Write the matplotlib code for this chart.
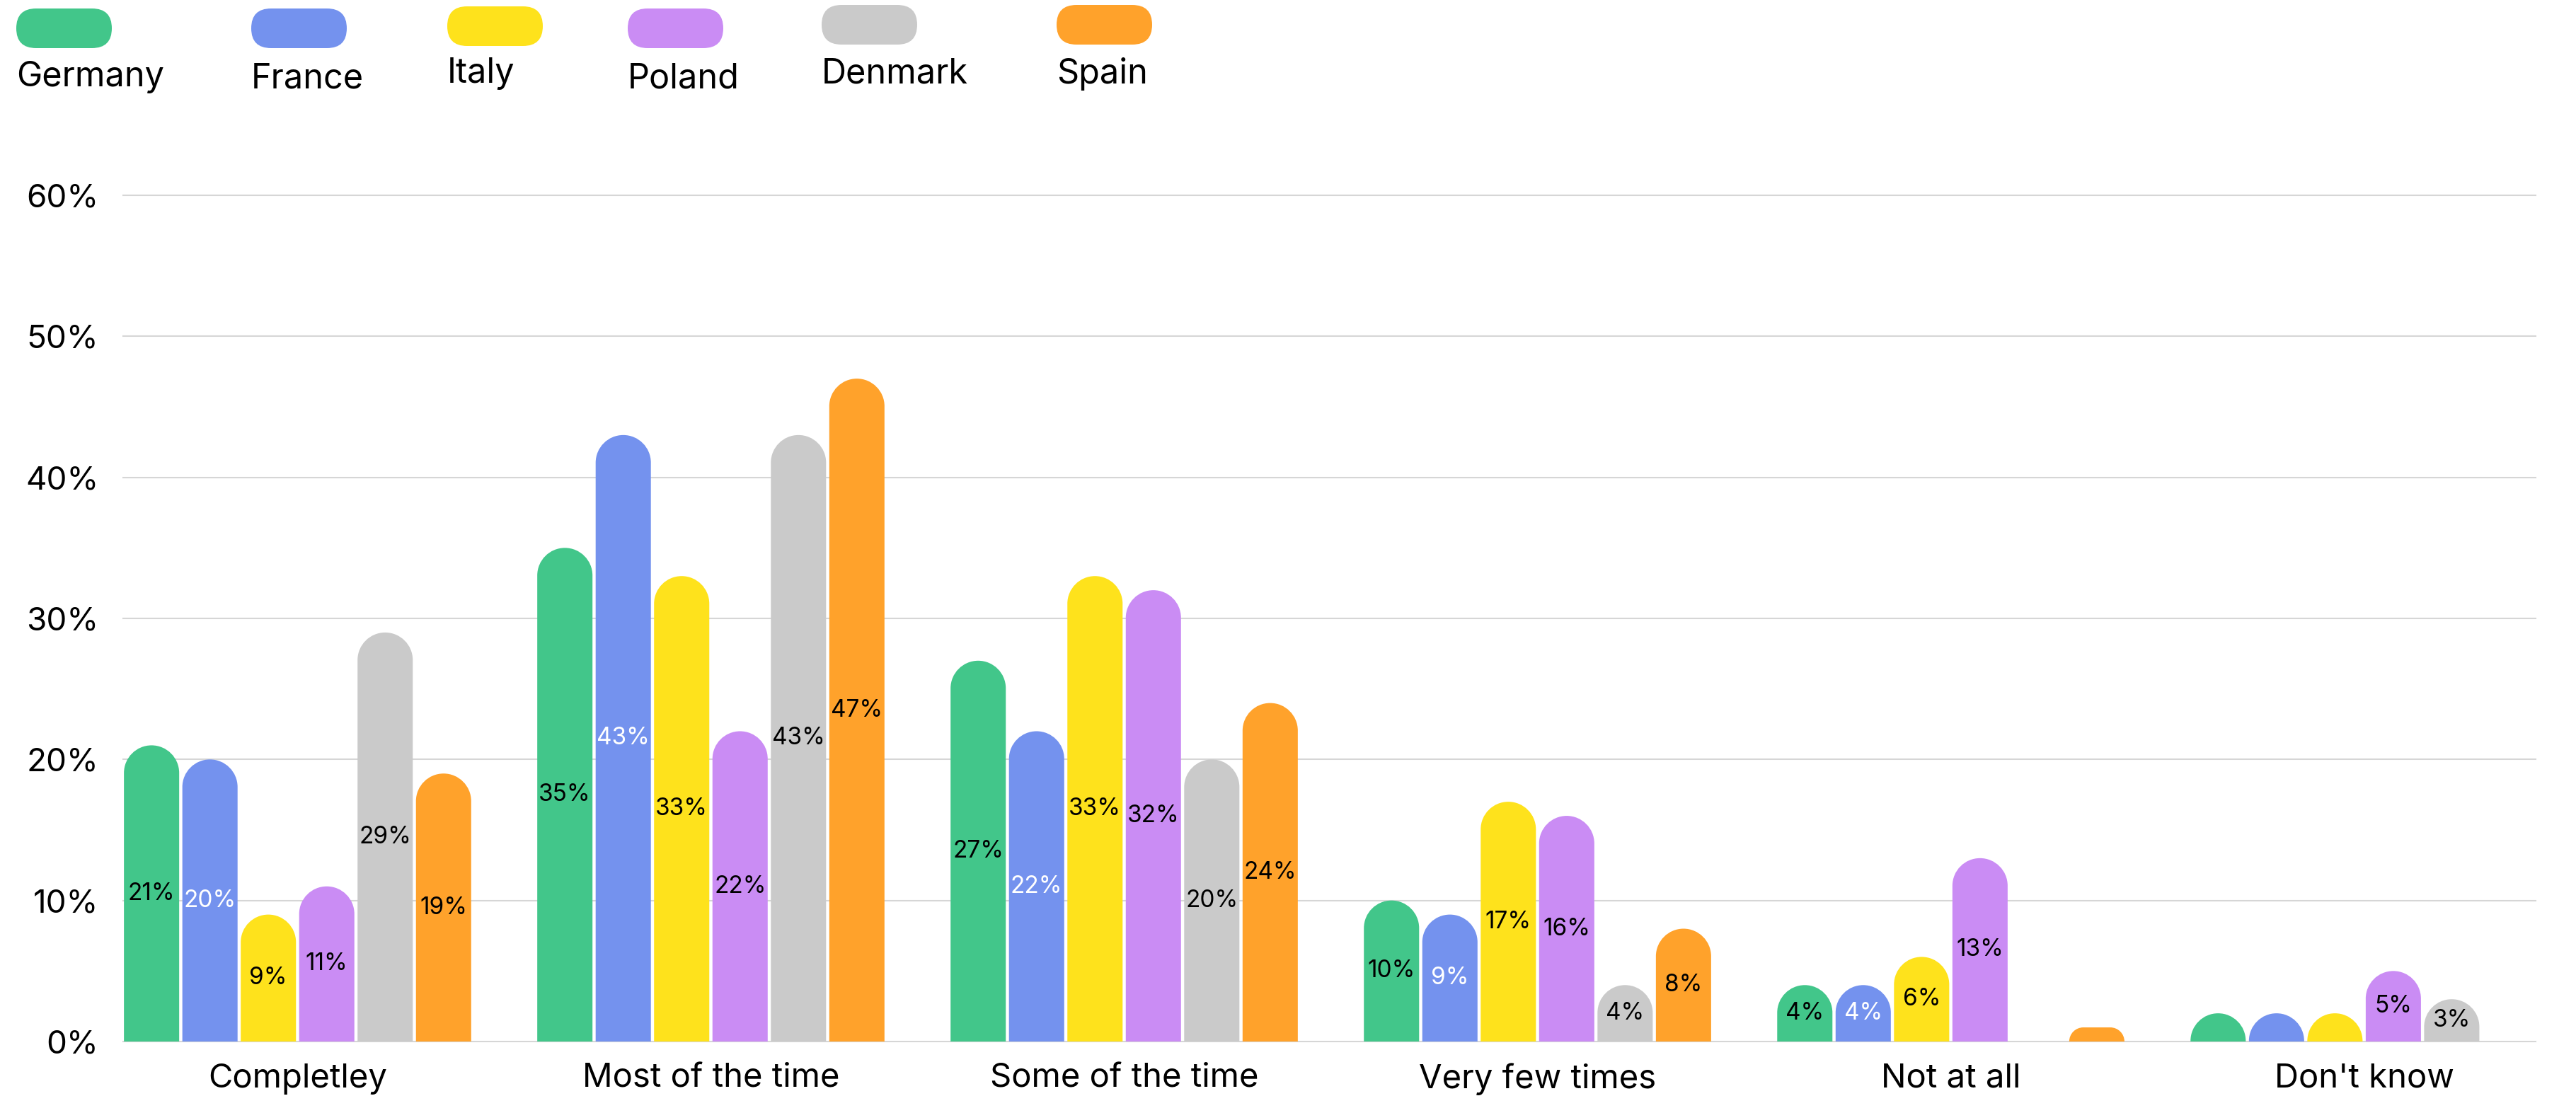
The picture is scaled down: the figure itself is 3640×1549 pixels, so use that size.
import numpy as np
import matplotlib.pyplot as plt
from matplotlib.path import Path
from matplotlib.patches import PathPatch, FancyBboxPatch

categories = ['Completley', 'Most of the time', 'Some of the time',
              'Very few times', 'Not at all', "Don't know"]
countries = ['Germany', 'France', 'Italy', 'Poland', 'Denmark', 'Spain']
germany = [21, 35, 27, 10, 4, 2]
france = [20, 43, 22, 9, 4, 2]
italy = [9, 33, 33, 17, 6, 2]
poland = [11, 22, 32, 16, 13, 5]
denmark = [29, 43, 20, 4, 0, 3]
spain = [19, 47, 24, 8, 1, 0]
yticks = [0, 10, 20, 30, 40, 50, 60]

series = [germany, france, italy, poland, denmark, spain]
colors = ['#42C68A', '#7492EE', '#FEE21C', '#CA8CF4', '#CACACA', '#FFA22B']
label_colors = ['black', 'white', 'black', 'black', 'black', 'black']

plt.rcParams['font.family'] = ['Inter', 'DejaVu Sans']

W, H = 3641, 1549
fig = plt.figure(figsize=(W / 100, H / 100), dpi=100)
ax = fig.add_axes([174 / W, 77 / H, (3583 - 174) / W, (1472 - 276) / H])
ax.set_xlim(-0.422, 5.415)
ax.set_ylim(0, 60)

step = 0.1413
w = 0.1336

# size of one data unit in pixels, used to make round tops circular
o = ax.transData.transform((0, 0))
sx = ax.transData.transform((1, 0))[0] - o[0]
sy = ax.transData.transform((0, 1))[1] - o[1]
rx = w / 2
ry = rx * sx / sy


def rounded_top(x0, width, h, rx, ry):
    if h < ry:
        rx, ry = rx * h / ry, h
    k = 0.5523
    x1 = x0 + width
    verts = [(x0, 0), (x0, h - ry),
             (x0, h - ry + k * ry), (x0 + rx - k * rx, h), (x0 + rx, h),
             (x1 - rx, h),
             (x1 - rx + k * rx, h), (x1, h - ry + k * ry), (x1, h - ry),
             (x1, 0), (x0, 0)]
    codes = [Path.MOVETO, Path.LINETO,
             Path.CURVE4, Path.CURVE4, Path.CURVE4,
             Path.LINETO,
             Path.CURVE4, Path.CURVE4, Path.CURVE4,
             Path.LINETO, Path.CLOSEPOLY]
    return Path(verts, codes)


x = np.arange(len(categories))
for i, vals in enumerate(series):
    bars = ax.bar(x + (i - 2.5) * step, vals, width=w, color=colors[i])
    for rect, v in zip(bars, vals):
        rect.set_visible(False)
        if v <= 0:
            continue
        p = rounded_top(rect.get_x(), rect.get_width(), rect.get_height(), rx, ry)
        ax.add_patch(PathPatch(p, facecolor=colors[i], edgecolor='none', zorder=2))
        if v >= 3:
            ax.text(rect.get_x() + rect.get_width() / 2, v / 2, f'{v}%',
                    ha='center', va='center', fontsize=24,
                    color=label_colors[i], zorder=3)

ax.set_yticks(yticks)
ax.set_yticklabels([f'{t}%' for t in yticks])
ax.set_xticks(x)
ax.set_xticklabels(categories)
ax.tick_params(axis='y', length=0, pad=25, labelsize=33)
ax.tick_params(axis='x', length=0, pad=22, labelsize=34)
ax.set_axisbelow(True)
ax.yaxis.grid(True, color='#d6d6d6', lw=1.5)
for gl in ax.get_ygridlines():
    gl.set_clip_on(False)
for s in ax.spines.values():
    s.set_visible(False)

# legend: pills with names underneath
lax = fig.add_axes([0, 0, 1, 1])
lax.set_xlim(0, W)
lax.set_ylim(H, 0)
lax.axis('off')
leg_x = [23, 355, 632, 887, 1161, 1493]
pill_y = [12, 12, 9, 12, 7, 7]
text_y = [109, 111, 104, 111, 104, 104]
for name, c, lx, py, ty in zip(countries, colors, leg_x, pill_y, text_y):
    lax.add_patch(FancyBboxPatch((lx, py), 135, 56,
                                 boxstyle='round,pad=0,rounding_size=28',
                                 facecolor=c, edgecolor='none'))
    lax.text(lx, ty, name, ha='left', va='center', fontsize=35)

fig.savefig('out.png', dpi=100)
